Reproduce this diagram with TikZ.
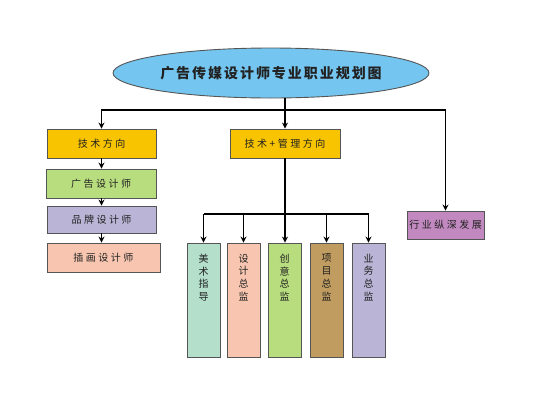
\documentclass[tikz,border=0pt]{standalone}
\usepackage{fontspec}
\newfontfamily\cjk[LetterSpace=25]{Noto Sans CJK SC}
\newfontfamily\cjktitle[LetterSpace=14]{Noto Sans CJK SC}
\usetikzlibrary{arrows.meta,shapes.geometric}
\definecolor{skyblue}{RGB}{116,198,240}
\definecolor{gold}{RGB}{248,196,0}
\definecolor{leaf}{RGB}{184,221,126}
\definecolor{lavender}{RGB}{186,180,214}
\definecolor{salmon}{RGB}{248,198,176}
\definecolor{mint}{RGB}{180,223,203}
\definecolor{tan}{RGB}{192,156,96}
\definecolor{mauve}{RGB}{193,137,191}
\definecolor{rim}{RGB}{85,85,85}
\definecolor{ink}{RGB}{34,34,34}
\begin{document}
\begin{tikzpicture}[x=1pt,y=-1pt,
  box/.style={draw=rim, line width=0.9pt, text=ink, inner sep=0pt, font=\cjk\fontsize{10}{12.7}\selectfont},
  tallbox/.style={box, minimum width=33pt, minimum height=114pt},
  conn/.style={line width=1.4pt, -{Stealth[length=6pt,width=6pt]}},
  wire/.style={line width=1.4pt}]
\useasboundingbox (0,0) rectangle (550,400);
%\draw [lightgray](0,0) grid (550,400);
\node [ellipse, draw=rim, line width=0.9pt, fill=skyblue, minimum width=316pt, minimum height=50pt, inner sep=0pt,
  font=\cjktitle\fontsize{14}{16}\bfseries\selectfont, text=ink] (plan) at (271,73) {广告传媒设计师专业职业规划图};

\node [box, fill=gold,     minimum width=109pt, minimum height=29pt] (tech)  at (101.5,143.5) {技术方向};
\node [box, fill=gold,     minimum width=110pt, minimum height=29pt] (mgmt)  at (285,143.5)   {技术+管理方向};
\node [box, fill=mauve,    minimum width=77pt,  minimum height=28pt] (deep)  at (445.5,225)   {行业纵深发展};

\node [box, fill=leaf,     minimum width=110pt, minimum height=29pt] (ad)    at (101,183.5)   {广告设计师};
\node [box, fill=lavender, minimum width=109pt, minimum height=27pt] (brand) at (101.5,219.5) {品牌设计师};
\node [box, fill=salmon,   minimum width=113pt, minimum height=29pt] (illus) at (103.5,257.5) {插画设计师};

\node [tallbox, fill=mint]     (art)      at (203.5,300) {\parbox[c][114pt][t]{14pt}{\centering\vspace*{11pt}美\\术\\指\\导}};
\node [tallbox, fill=salmon]   (design)   at (243.5,300) {\parbox[c][114pt][t]{14pt}{\centering\vspace*{11pt}设\\计\\总\\监}};
\node [tallbox, fill=leaf]     (creative) at (284.5,300) {\parbox[c][114pt][t]{14pt}{\centering\vspace*{11pt}创\\意\\总\\监}};
\node [tallbox, fill=tan]      (project)  at (326.5,300) {\parbox[c][114pt][t]{14pt}{\centering\vspace*{11pt}项\\目\\总\\监}};
\node [tallbox, fill=lavender] (business) at (368.5,300) {\parbox[c][114pt][t]{14pt}{\centering\vspace*{11pt}业\\务\\总\\监}};

\coordinate (bus) at (285,110);
\coordinate (subbus) at (285,214);
\draw [wire] (plan.south -| bus) -- (bus);
\draw [conn] (bus) -- (mgmt.north);
\draw [conn] (bus) -| (tech.north);
\draw [conn] (bus) -| (deep.north);

\draw [conn] (tech.south) -- (ad.north -| tech);
\draw [conn] (ad.south -| brand) -- (brand.north);
\draw [conn] (brand.south) -- (illus.north -| brand);

\draw [conn] (mgmt.south) -- (creative.north -| mgmt);
\draw [wire] (subbus -| art) -- (subbus -| business);
\draw [conn] (subbus -| art) -- (art.north);
\draw [conn] (subbus -| design) -- (design.north);
\draw [conn] (subbus -| project) -- (project.north);
\draw [conn] (subbus -| business) -- (business.north);
\end{tikzpicture}
\end{document}
